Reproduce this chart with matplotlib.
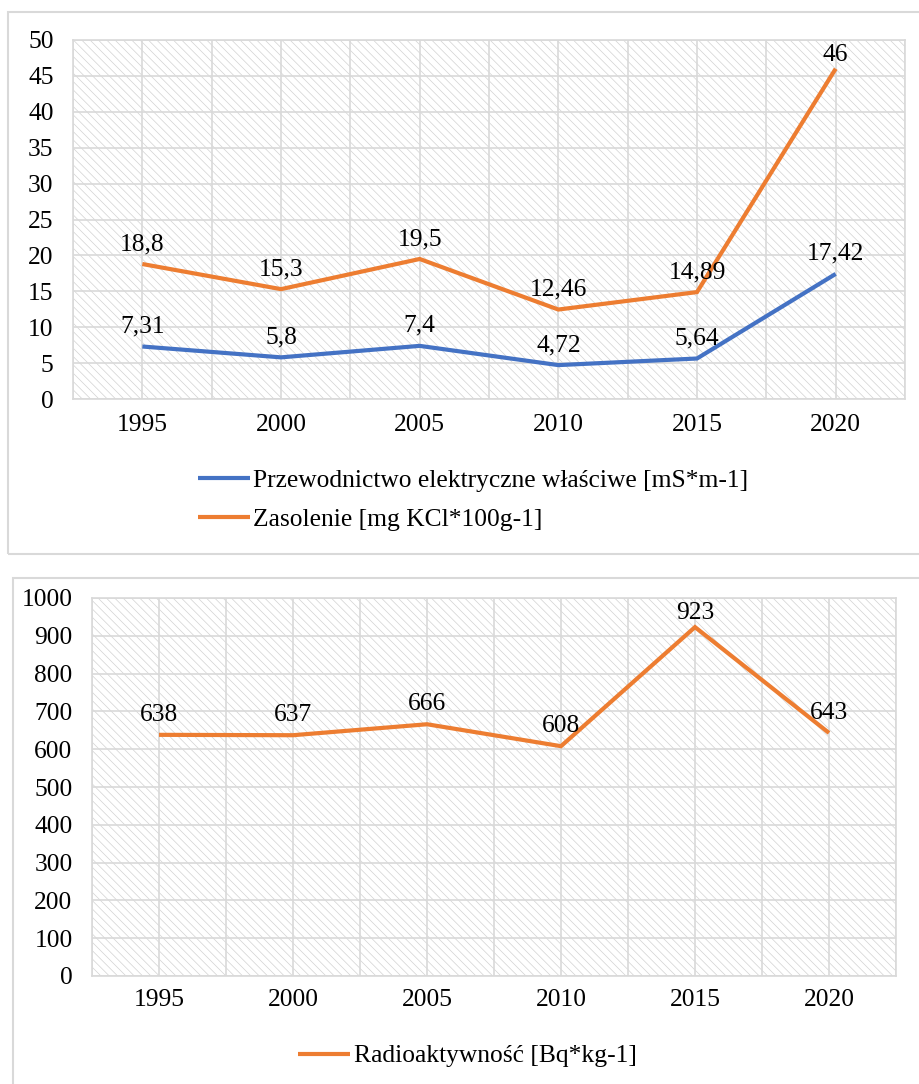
import matplotlib
matplotlib.use("Agg")
import matplotlib.pyplot as plt
import matplotlib.patches as mpatches
import numpy as np

plt.rcParams['font.family'] = ['Liberation Serif', 'DejaVu Serif']
plt.rcParams['hatch.linewidth'] = 0.5

# ── data ────────────────────────────────────────────────────────────────────
years = ["1995", "2000", "2005", "2010", "2015", "2020"]
przewodnictwo = [7.31, 5.8, 7.4, 4.72, 5.64, 17.42]
zasolenie = [18.8, 15.3, 19.5, 12.46, 14.89, 46]
radioaktywnosc = [638, 637, 666, 608, 923, 643]

label_przew = "Przewodnictwo elektryczne właściwe [mS*m-1]"
label_zasol = "Zasolenie [mg KCl*100g-1]"
label_radio = "Radioaktywność [Bq*kg-1]"

BLUE = '#4472C4'
ORANGE = '#ED7D31'
GRID = '#d9d9d9'
FS = 18.4


def fmt(v):
    return f"{v:g}".replace('.', ',')


def style_axes(ax, ymax, ystep, xpad, ypad):
    n = len(years)
    x = np.arange(n)
    ax.set_xlim(-0.5, n - 0.5)
    ax.set_ylim(0, ymax)
    ax.set_xticks(x)
    ax.set_xticklabels(years)
    ax.set_xticks(np.arange(-0.5, n, 1.0), minor=True)
    ax.set_yticks(np.arange(0, ymax + ystep / 2, ystep))
    ax.tick_params(axis='both', which='both', length=0, labelsize=FS)
    ax.tick_params(axis='y', pad=ypad)
    ax.tick_params(axis='x', pad=xpad)
    ax.set_axisbelow(True)
    ax.grid(True, which='both', axis='x', color=GRID, lw=1.2)
    ax.grid(True, which='major', axis='y', color=GRID, lw=1.2)
    for sp in ax.spines.values():
        sp.set_color(GRID)
        sp.set_linewidth(1.2)
    # hatched plot background
    ax.patch.set_visible(False)
    ax.add_patch(mpatches.Rectangle((0, 0), 1, 1, transform=ax.transAxes,
                                    facecolor='white', edgecolor='#d2d2d2',
                                    hatch='\\\\\\\\', lw=0, zorder=0))


def add_labels(ax, values):
    # data labels above points, pulled down when they would hit the top
    px_per_pt = fig.dpi / 72.0
    top_px = ax.transAxes.transform((0, 1))[1]
    for i, v in enumerate(values):
        py = ax.transData.transform((i, v))[1]
        off_px = min(20, (top_px - py) - 15)
        ax.annotate(fmt(v), (i, v), xytext=(0, off_px / px_per_pt),
                    textcoords='offset points', ha='center', va='center',
                    fontsize=FS, color='black', zorder=5)


fig = plt.figure(figsize=(9.19, 10.84), dpi=100)

# outer chart frames
fig.add_artist(mpatches.Rectangle((8 / 919, 1 - 554 / 1084), 1.0, 542 / 1084,
                                  transform=fig.transFigure, fill=False,
                                  edgecolor=GRID, lw=1.5))
fig.add_artist(mpatches.Rectangle((13 / 919, -0.05), 1.0, 0.05 + 506 / 1084,
                                  transform=fig.transFigure, fill=False,
                                  edgecolor=GRID, lw=1.5))

# ── top chart ───────────────────────────────────────────────────────────────
ax1 = fig.add_axes([73 / 919, 1 - 399 / 1084, 832 / 919, 359 / 1084])
style_axes(ax1, 50, 5, xpad=11, ypad=14)
x = np.arange(len(years))
l1, = ax1.plot(x, przewodnictwo, color=BLUE, lw=3, solid_capstyle='butt',
               solid_joinstyle='miter', zorder=3, label=label_przew)
l2, = ax1.plot(x, zasolenie, color=ORANGE, lw=3, solid_capstyle='butt',
               solid_joinstyle='miter', zorder=3, label=label_zasol)
add_labels(ax1, przewodnictwo)
add_labels(ax1, zasolenie)

fig.legend(handles=[l1, l2], loc='center left',
           bbox_to_anchor=(198 / 919, 1 - 500 / 1084), frameon=False,
           fontsize=FS, handlelength=2.05, handletextpad=0.12,
           labelspacing=0.6, borderpad=0, borderaxespad=0)

# ── bottom chart ────────────────────────────────────────────────────────────
ax2 = fig.add_axes([92 / 919, 1 - 976 / 1084, 804 / 919, 378 / 1084])
style_axes(ax2, 1000, 100, xpad=9.5, ypad=14)
l3, = ax2.plot(x, radioaktywnosc, color=ORANGE, lw=3, solid_capstyle='butt',
               solid_joinstyle='miter', zorder=3, label=label_radio)
add_labels(ax2, radioaktywnosc)

fig.legend(handles=[l3], loc='center left',
           bbox_to_anchor=(298 / 919, 1 - 1056 / 1084), frameon=False,
           fontsize=FS, handlelength=2.05, handletextpad=0.15,
           borderpad=0, borderaxespad=0)

fig.savefig("out.png", dpi=100, facecolor='white')
